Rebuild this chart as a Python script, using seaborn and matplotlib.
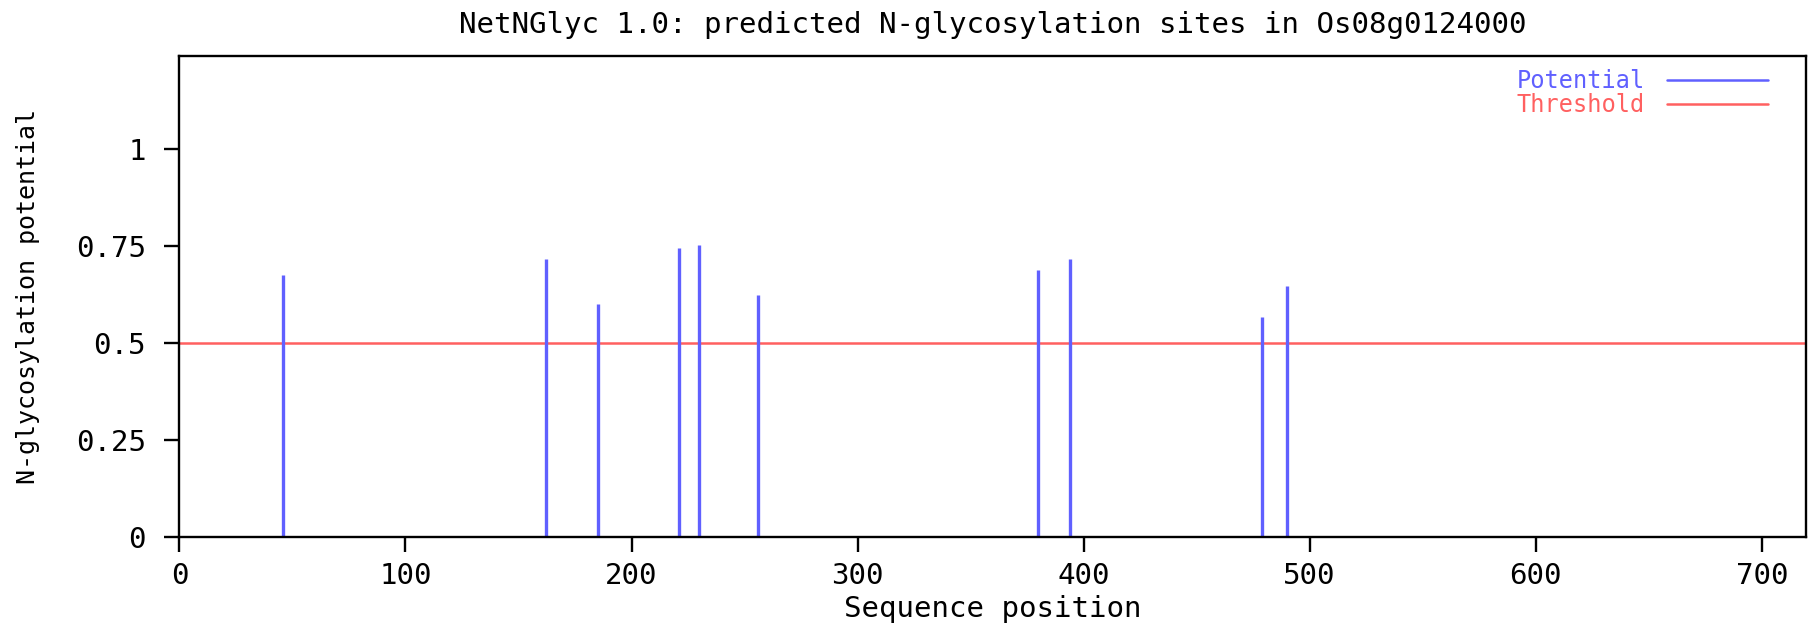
import matplotlib
matplotlib.use("Agg")
import matplotlib.pyplot as plt
from matplotlib.lines import Line2D
from matplotlib.ticker import FixedLocator, FixedFormatter
import numpy as np
import pandas as pd
import seaborn as sns

# Predicted N-glycosylation sites (sequence position, potential)
site_positions = [46, 162, 185, 221, 230, 256, 380, 394, 479, 490]
site_potentials = [0.677, 0.716, 0.602, 0.745, 0.752, 0.624, 0.688, 0.716, 0.567, 0.648]
threshold = 0.5

x_ticks = [0, 100, 200, 300, 400, 500, 600, 700]
y_ticks = [0, 0.25, 0.5, 0.75, 1]
y_tick_labels = ["0", "0.25", "0.5", "0.75", "1"]

title = "NetNGlyc 1.0: predicted N-glycosylation sites in Os08g0124000"
x_label = "Sequence position"
y_label = "N-glycosylation potential"

BLUE = "#6060ff"
RED = "#ff6060"
FS = 21
LEGEND_FS = 17

sns.set_theme(style="white")
plt.rcParams["font.family"] = ["DejaVu Sans Mono", "DejaVu Sans"]

# Each site becomes a vertical stick from 0 up to its potential
stick_rows = []
for i, (p, v) in enumerate(zip(site_positions, site_potentials)):
    stick_rows.append({"site": i, "position": p, "potential": 0.0})
    stick_rows.append({"site": i, "position": p, "potential": v})
sticks = pd.DataFrame(stick_rows)

fig = plt.figure(figsize=(18.16, 6.23), dpi=100)
ax = fig.add_axes([0.0988, 0.1376, 0.8956, 0.7730])

sns.lineplot(data=sticks, x="position", y="potential", units="site",
             estimator=None, sort=False, color=BLUE, linewidth=2.4,
             solid_capstyle="butt", legend=False, ax=ax)
ax.axhline(threshold, color=RED, linewidth=1.8, zorder=1)

ax.set_xlim(0, 719.5)
ax.set_ylim(0, 1.241)

ax.xaxis.set_major_locator(FixedLocator(x_ticks))
ax.yaxis.set_major_locator(FixedLocator(y_ticks))
ax.yaxis.set_major_formatter(FixedFormatter(y_tick_labels))

for s in ax.spines.values():
    s.set_visible(True)
    s.set_color("black")
    s.set_linewidth(1.7)

ax.tick_params(axis="both", which="major", direction="out", length=11,
               width=1.7, color="black", labelsize=FS, labelcolor="black",
               bottom=True, left=True)
ax.tick_params(axis="x", pad=6.5)
ax.tick_params(axis="y", pad=13)

ax.set_title(title, fontsize=FS, color="black", pad=16)
ax.set_xlabel(x_label, fontsize=FS, color="black")
ax.set_ylabel(y_label, fontsize=18, color="black")
ax.xaxis.set_label_coords(0.5, -0.12)
ax.yaxis.set_label_coords(-0.0858, 0.5)

# Legend: label text first, line sample on the right
handles = [Line2D([], [], color=BLUE, linewidth=1.8),
           Line2D([], [], color=RED, linewidth=1.8)]
ax.legend(handles, ["Potential", "Threshold"], loc="upper right",
          bbox_to_anchor=(0.9766, 0.972), frameon=False, markerfirst=False,
          labelcolor="linecolor", fontsize=LEGEND_FS, handlelength=4.25,
          handletextpad=0.95, labelspacing=0.0, borderpad=0, borderaxespad=0)

fig.savefig("out.png", dpi=100, facecolor="white")
